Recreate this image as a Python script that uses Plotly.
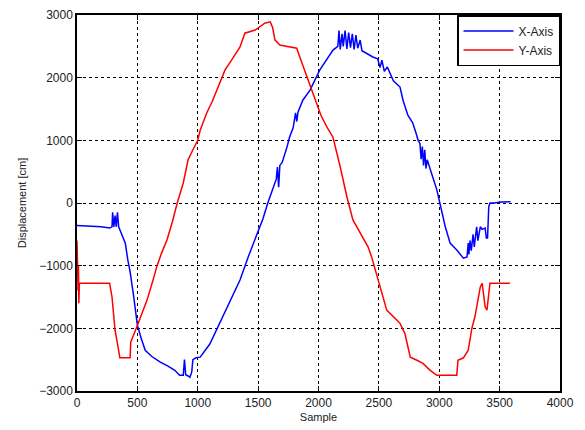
import plotly.graph_objects as go

# X-Axis series (sample, displacement)
x_samples = [0, 100, 200, 270, 290, 295, 305, 315, 325, 335, 345, 360, 380, 400, 420, 440, 470, 500,
             530, 565, 620, 690, 750, 810, 850, 880, 890, 900, 920, 935, 950, 960, 985, 1020, 1100,
             1200, 1300, 1350, 1420, 1490, 1540, 1580, 1620, 1650, 1660, 1670, 1680, 1700, 1740,
             1760, 1790, 1810, 1820, 1830, 1870, 1930, 2010, 2080, 2120, 2160, 2170, 2180, 2195,
             2205, 2220, 2235, 2250, 2265, 2280, 2295, 2310, 2325, 2345, 2360, 2400, 2450, 2490,
             2510, 2525, 2545, 2570, 2620, 2675, 2700, 2740, 2780, 2810, 2825, 2840, 2850, 2860,
             2870, 2880, 2890, 2900, 2930, 2960, 2980, 3005, 3050, 3090, 3145, 3200, 3230, 3240,
             3245, 3255, 3265, 3280, 3290, 3310, 3320, 3340, 3355, 3380, 3390, 3400, 3410, 3420,
             3450, 3520, 3570, 3590]
x_values = [-360, -370, -380, -400, -380, -150, -380, -200, -380, -150, -380, -450, -560, -640, -900,
            -1100, -1500, -1950, -2150, -2350, -2450, -2540, -2600, -2670, -2750, -2750, -2500,
            -2740, -2760, -2780, -2700, -2500, -2470, -2460, -2250, -1850, -1450, -1230, -850, -480,
            -250, 0, 200, 380, 575, 250, 600, 650, 900, 1050, 1200, 1440, 1300, 1450, 1640, 1800,
            2120, 2330, 2440, 2500, 2750, 2450, 2700, 2500, 2750, 2460, 2720, 2480, 2700, 2450,
            2680, 2470, 2600, 2430, 2380, 2330, 2300, 2160, 2280, 2100, 2170, 1950, 1850, 1640,
            1400, 1280, 1100, 1000, 950, 700, 900, 600, 850, 550, 690, 500, 300, 210, 0, -380,
            -640, -750, -880, -860, -640, -820, -600, -760, -500, -700, -380, -600, -380, -420,
            -400, -560, -560, -60, 0, 0, 15, 20, 20]

# Y-Axis series (sample, displacement)
y_samples = [0, 3, 6, 9, 12, 15, 20, 100, 200, 270, 290, 315, 340, 355, 440, 445, 495, 540, 580, 630,
             660, 700, 745, 790, 830, 880, 920, 960, 1000, 1020, 1075, 1120, 1160, 1225, 1280, 1350,
             1390, 1475, 1555, 1600, 1620, 1640, 1680, 1820, 1845, 1905, 1970, 2020, 2070, 2120,
             2180, 2235, 2285, 2345, 2410, 2440, 2485, 2510, 2565, 2650, 2675, 2715, 2760, 2815,
             2865, 2925, 2980, 3145, 3155, 3200, 3240, 3270, 3295, 3340, 3355, 3370, 3380, 3395,
             3420, 3585]
y_values = [-600, -1000, -700, -1400, -1000, -1600, -1280, -1280, -1280, -1280, -1500, -2030, -2300,
            -2470, -2470, -2220, -1980, -1750, -1550, -1230, -1020, -800, -590, -300, 0, 320, 690,
            850, 1000, 1160, 1440, 1620, 1800, 2120, 2280, 2490, 2710, 2760, 2870, 2890, 2800, 2600,
            2520, 2470, 2330, 2010, 1640, 1400, 1210, 1050, 575, 100, -270, -480, -700, -860, -1180,
            -1340, -1710, -1870, -1920, -2080, -2460, -2510, -2560, -2670, -2750, -2750, -2510,
            -2470, -2350, -2000, -1820, -1340, -1280, -1500, -1660, -1710, -1280, -1280]

x_ticks = [0, 500, 1000, 1500, 2000, 2500, 3000, 3500, 4000]
y_ticks = [-3000, -2000, -1000, 0, 1000, 2000, 3000]

FONT = "Liberation Sans, Arial"

fig = go.Figure()
fig.add_trace(go.Scatter(x=x_samples, y=x_values, mode="lines", name="X-Axis",
                         line=dict(color="#0000ff", width=1.5)))
fig.add_trace(go.Scatter(x=y_samples, y=y_values, mode="lines", name="Y-Axis",
                         line=dict(color="#ff0000", width=1.5)))

axis_common = dict(showline=True, linecolor="black", linewidth=1.5, mirror="ticks",
                   ticks="inside", ticklen=5, tickcolor="black", showgrid=True,
                   gridcolor="black", griddash="dot", gridwidth=1, zeroline=False,
                   automargin=False,
                   tickfont=dict(family=FONT, size=12, color="#222"))

fig.update_xaxes(range=[0, 4000], tickvals=x_ticks, title=dict(text="Sample", standoff=4,
                 font=dict(family=FONT, size=11, color="#222")), **axis_common)
fig.update_yaxes(range=[-3000, 3000], tickvals=y_ticks, title=dict(text="Displacement [cm]", standoff=10,
                 font=dict(family=FONT, size=11, color="#222")), **axis_common)

fig.update_layout(
    width=585, height=430,
    margin=dict(l=77, r=25, t=15, b=39),
    paper_bgcolor="white", plot_bgcolor="white",
    showlegend=True,
    legend=dict(x=1, y=1, xanchor="right", yanchor="top", bgcolor="white",
                bordercolor="black", borderwidth=1.5,
                font=dict(family=FONT, size=12, color="#222"),
                tracegroupgap=0, itemwidth=50),
)

fig.write_html("out.html")
